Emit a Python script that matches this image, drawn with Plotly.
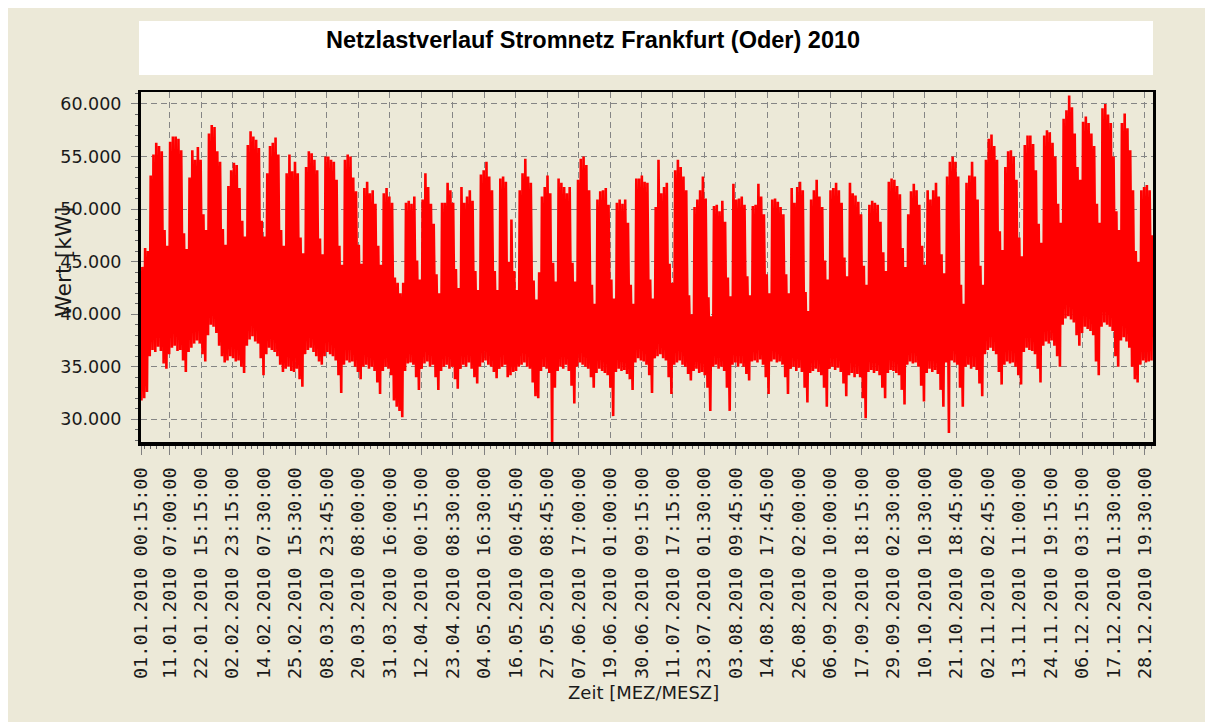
import pandas as pd
import plotly.graph_objects as go

TITLE = "Netzlastverlauf Stromnetz Frankfurt (Oder) 2010"
X_TITLE = "Zeit [MEZ/MESZ]"
Y_TITLE = "Wert [kW]"
START_DATE = "2010-01-01"

# Daily maximum load in kW (01.01.2010 - 31.12.2010)
DAILY_MAX_KW = [
    44500, 46300, 46000,
    53200, 55200, 56300, 56000, 55500, 48000, 46500,
    56400, 56900, 56900, 56700, 55600, 47700, 46200,
    53000, 55600, 54700, 55900, 54700, 49500, 48000,
    57200, 58000, 57800, 55500, 54500, 48100, 46600,
    52200, 53700, 54400, 54200, 52000, 48900, 47400,
    56100, 57400, 56900, 56600, 55800, 48900, 47400,
    53400, 56000, 56300, 56800, 55200, 48000, 46500,
    53400, 55200, 53600, 54500, 53400, 47300, 45800,
    54000, 55500, 55300, 54700, 53700, 47200, 45700,
    55000, 55000, 54700, 54500, 52800, 46500, 44700,
    54700, 55200, 55000, 53000, 51700, 46600, 44800,
    52000, 52600, 51500, 51800, 50500, 46500, 44700,
    51500, 52000, 51200, 50600, 43500, 43000, 42000,
    43000, 50600, 50800, 50500, 51200, 45100, 43300,
    50900, 53400, 52100, 50500, 48600, 43800, 42000,
    50600, 50600, 52500, 51800, 50600, 44300, 42500,
    52100, 50600, 51200, 51800, 50800, 44100, 42300,
    53300, 53700, 54500, 53100, 51800, 44100, 42300,
    52900, 53100, 52600, 45000, 49000, 44100, 42300,
    51800, 53400, 54800, 53100, 52500, 43200, 41400,
    44000, 51200, 52100, 53200, 51500, 44900, 43100,
    52900, 52500, 52100, 51500, 52100, 44900, 43100,
    52800, 54800, 55000, 54200, 51800, 42800, 41000,
    50900, 51700, 51800, 52000, 50400, 43300, 41500,
    50600, 50900, 50500, 50900, 48700, 42800, 41000,
    52900, 52900, 53200, 52600, 52500, 43300, 41500,
    50200, 54700, 51500, 52100, 52500, 44800, 43000,
    53700, 54700, 54000, 53100, 51800, 41800, 40000,
    50200, 50900, 51800, 53100, 51000, 41600, 39800,
    50300, 50400, 49800, 50800, 48800, 43500, 41700,
    52400, 50900, 51000, 51200, 50400, 43600, 41800,
    50300, 50400, 52400, 51200, 49500, 43800, 42000,
    50900, 51000, 50700, 50200, 49500, 43800, 42000,
    52000, 50600, 52100, 52600, 51800, 42100, 40300,
    50900, 51800, 52800, 51200, 50200, 45100, 43300,
    51800, 52000, 52500, 51800, 50600, 45400, 43600,
    52500, 51500, 51300, 50700, 49500, 44600, 42800,
    50400, 50800, 50600, 50400, 48800, 45900, 44100,
    52600, 52900, 52800, 52200, 51400, 46300, 44500,
    49500, 51700, 52400, 51800, 50400, 46500, 44700,
    51800, 50900, 51800, 52500, 51200, 45700, 43900,
    53100, 54500, 55000, 54500, 53100, 42800, 41000,
    52500, 53200, 54500, 53100, 50900, 44600, 42800,
    54700, 56700, 57100, 56000, 54700, 47900, 46100,
    54000, 55500, 55600, 55000, 52800, 47300, 45500,
    56100, 57000, 57000, 56200, 53700, 48600, 46800,
    57000, 57500, 57300, 56300, 55000, 50500, 48700,
    58600, 59400, 60800, 59700, 57200, 54000, 52800,
    58300, 58800, 58200, 57200, 56000, 50500, 48700,
    59600, 60000, 59000, 58200, 55000, 49800, 48000,
    58200, 59100, 57700, 55600, 51800, 46000, 45000,
    51800, 52100, 52300, 51800, 47500,
]

# Daily minimum load in kW (01.01.2010 - 31.12.2010)
DAILY_MIN_KW = [
    31800, 32000, 32600,
    36000, 36600, 36400, 36900, 36500, 35300, 34800,
    36200, 36800, 37000, 36500, 36600, 35600, 34500,
    36400, 36800, 37200, 37500, 37200, 36200, 35500,
    38000, 39000, 38800, 38200, 37000, 36000, 35400,
    35600, 36000, 35800, 35500, 35600, 35000, 34400,
    37000, 37600, 37900, 37400, 37200, 35800, 34200,
    36200, 36800, 36600, 36400, 36000, 35200, 34500,
    34800, 35000, 34600, 34500, 34800, 33800, 33100,
    36200, 36600, 36800, 36400, 36000, 35500, 35200,
    36000, 36400, 36200, 36000, 35600, 34200, 32500,
    35200, 35600, 35400, 35500, 35000, 34500, 33800,
    35000, 35200, 34800, 35000, 34600, 33500, 32400,
    34600, 35000, 34800, 34200, 31800, 31200, 30800,
    30200, 34600, 35300, 35400, 35200, 34000, 32800,
    34800, 35300, 35500, 35000, 35200, 34000, 32800,
    34600, 35000, 35200, 34800, 35000, 33800, 32900,
    34800, 35200, 35000, 35400, 34800, 34000, 33400,
    35000, 35400, 35600, 35200, 35000, 34500, 33900,
    34800, 35000, 35200, 34000, 34200, 34500, 34600,
    35000, 35200, 35400, 35000, 34800, 33500, 32200,
    32000, 34600, 35000, 34800, 34400, 27800, 33000,
    34600, 35000, 34800, 35200, 34600, 33200, 31500,
    35000, 35400, 35200, 35000, 34800, 34000, 33000,
    34400, 34800, 34600, 34400, 34200, 33000, 30300,
    34500, 34800, 34600, 34700, 34300, 33800, 32800,
    35400, 35800, 35600, 35500, 35200, 34200, 32500,
    35800, 36000, 36200, 35800, 35600, 34000, 32400,
    35200, 35400, 35600, 35200, 35000, 34300, 33700,
    34600, 34800, 34400, 34500, 34200, 33000, 30800,
    35000, 35200, 34800, 35000, 34600, 33000, 30800,
    35200, 35400, 35000, 35300, 35000, 34300, 33700,
    35500, 35600, 35400, 35700, 35200, 34000, 32400,
    35500, 35700, 35400, 35500, 35200, 34000, 32400,
    34800, 35000, 34600, 34900, 34500, 33000, 31600,
    34400, 34600, 34800, 34500, 34200, 33000, 31200,
    34800, 35000, 34700, 34900, 34500, 33400, 32200,
    34200, 34400, 34000, 34300, 34000, 32000, 30100,
    34500, 34700, 34400, 34600, 34200, 33000, 32000,
    34400, 34700, 34600, 34400, 34200, 32800, 31400,
    35200, 35500, 35300, 35400, 35000, 33200, 31700,
    34400, 34800, 34500, 34700, 34300, 32800, 31200,
    35400, 28700, 35600, 35400, 35200, 33000, 31200,
    35000, 35200, 34800, 35000, 34700, 33400, 32200,
    36200, 36600, 36800, 36500, 36200, 34500, 33300,
    35200, 35500, 35300, 35400, 35000, 34200, 33300,
    36400, 36800, 36600, 36500, 36200, 34800, 33500,
    37000, 37400, 37200, 37500, 37000, 36000, 35000,
    39000, 39600, 39800, 39500, 39200, 38000, 37000,
    38200, 38800, 38600, 38400, 38000, 35500, 34200,
    38800, 39200, 39000, 38800, 38400, 36000, 35000,
    37500, 37800, 37400, 36800, 35000, 33800, 33500,
    35200, 35600, 35400, 35500, 35600,
]

X_TICK_LABELS = [
    "01.01.2010 00:15:00", "11.01.2010 07:00:00", "22.01.2010 15:15:00",
    "02.02.2010 23:15:00", "14.02.2010 07:30:00", "25.02.2010 15:30:00",
    "08.03.2010 23:45:00", "20.03.2010 08:00:00", "31.03.2010 16:00:00",
    "12.04.2010 00:15:00", "23.04.2010 08:30:00", "04.05.2010 16:30:00",
    "16.05.2010 00:45:00", "27.05.2010 08:45:00", "07.06.2010 17:00:00",
    "19.06.2010 01:00:00", "30.06.2010 09:15:00", "11.07.2010 17:15:00",
    "23.07.2010 01:30:00", "03.08.2010 09:45:00", "14.08.2010 17:45:00",
    "26.08.2010 02:00:00", "06.09.2010 10:00:00", "17.09.2010 18:15:00",
    "29.09.2010 02:30:00", "10.10.2010 10:30:00", "21.10.2010 18:45:00",
    "02.11.2010 02:45:00", "13.11.2010 11:00:00", "24.11.2010 19:15:00",
    "06.12.2010 03:15:00", "17.12.2010 11:30:00", "28.12.2010 19:30:00",
]
Y_TICKS = [30000, 35000, 40000, 45000, 50000, 55000, 60000]

# ---- build the load curve: night minimum and daytime maximum per day ----
days = pd.date_range(START_DATE, periods=len(DAILY_MAX_KW), freq="D")
xs, ys = [], []
for d, lo, hi in zip(days, DAILY_MIN_KW, DAILY_MAX_KW):
    xs += [d + pd.Timedelta(hours=4), d + pd.Timedelta(hours=12)]
    ys += [lo, hi]

tick_dates = [pd.to_datetime(t, format="%d.%m.%Y %H:%M:%S") for t in X_TICK_LABELS]

BG = "#ECE9D8"
GRID = "#858585"

fig = go.Figure()
fig.add_trace(go.Scatter(
    x=xs, y=ys, mode="lines",
    line=dict(color="#FF0000", width=2.6, simplify=False),
    hoverinfo="skip", showlegend=False,
))

# page coordinates (the html body adds an 8px margin around the figure)
OFF = 8
W, H = 1213 - OFF, 722 - OFF
L, R, T, B = 141, 1153, 92, 442          # plot area in page pixels
pw, ph = R - L, B - T


def px(x):
    return (x - L) / pw


def py(y):
    return (B - y) / ph


fig.update_layout(
    width=W, height=H,
    margin=dict(l=L - OFF, r=(W + OFF) - R, t=T - OFF, b=(H + OFF) - B, pad=0),
    paper_bgcolor=BG, plot_bgcolor=BG,
    separators=",.",
    showlegend=False,
    xaxis=dict(
        type="date",
        range=["2010-01-01 00:15", "2010-12-31 17:00"],
        tickmode="array", tickvals=tick_dates, ticktext=X_TICK_LABELS,
        tickangle=-90,
        tickfont=dict(family="DejaVu Sans Mono", size=18.5, color="#1a1a1a"),
        ticks="outside", ticklen=9, tickwidth=1, tickcolor="#808080",
        ticklabelstandoff=5,
        showgrid=True, gridcolor=GRID, gridwidth=1.4, griddash="6px,4px",
        showline=True, linecolor="black", linewidth=4, mirror=False,
        zeroline=False,
        minor=dict(ticks="outside", ticklen=3, tickcolor="#666666",
                   tick0=tick_dates[1], dtick=196020000, showgrid=False),
    ),
    yaxis=dict(
        range=[27840, 61140],
        tickmode="array", tickvals=Y_TICKS, tickformat=",.0f",
        tickfont=dict(family="DejaVu Sans", size=17.5, color="#1a1a1a"),
        ticks="outside", ticklen=7, tickwidth=1, tickcolor="#808080",
        ticklabelstandoff=6,
        showgrid=True, gridcolor=GRID, gridwidth=1.4, griddash="6px,4px",
        showline=True, linecolor="black", linewidth=3, mirror=False,
        zeroline=False,
        minor=dict(ticks="outside", ticklen=3, tickcolor="#666666",
                   tick0=0, dtick=1000, showgrid=False),
    ),
    shapes=[
        # white title box
        dict(type="rect", xref="paper", yref="paper",
             x0=px(139), x1=px(1153), y0=py(75), y1=py(21),
             fillcolor="white", line=dict(width=0), layer="below"),
        # top and right frame lines
        dict(type="line", xref="paper", yref="paper",
             x0=px(138), x1=px(1156), y0=py(91), y1=py(91),
             line=dict(color="black", width=2)),
        dict(type="line", xref="paper", yref="paper",
             x0=px(1154.5), x1=px(1154.5), y0=py(90), y1=py(446),
             line=dict(color="black", width=3)),
    ],
    annotations=[
        dict(text=TITLE, xref="paper", yref="paper", x=px(593), y=py(40),
             xanchor="center", yanchor="middle", showarrow=False,
             font=dict(family="Liberation Sans", size=23.5, color="black", weight="bold")),
        dict(text=X_TITLE, xref="paper", yref="paper", x=px(643.5), y=py(692),
             xanchor="center", yanchor="middle", showarrow=False,
             font=dict(family="DejaVu Sans", size=18, color="#1a1a1a")),
        dict(text=Y_TITLE, xref="paper", yref="paper", x=px(63), y=py(262),
             xanchor="center", yanchor="middle", showarrow=False, textangle=-90,
             font=dict(family="DejaVu Sans", size=22, color="#1a1a1a")),
    ],
)

fig.write_html("out.html")
